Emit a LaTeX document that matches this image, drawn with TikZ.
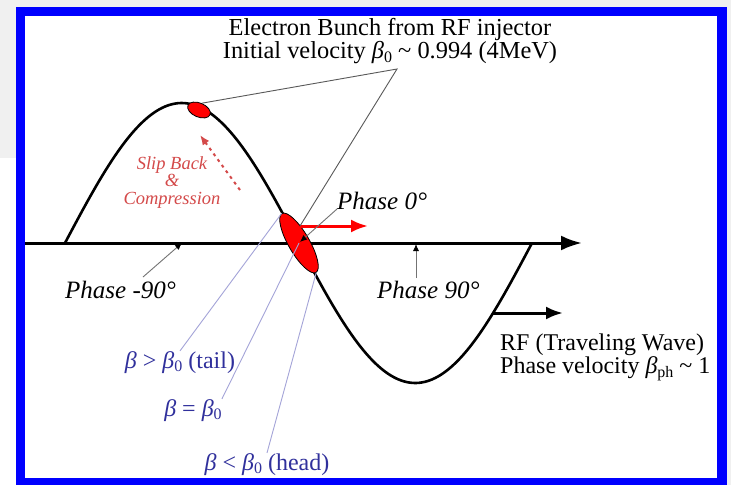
\documentclass[tikz,border=0pt]{standalone}
\usepackage{fontspec}
\setmainfont{Liberation Serif}
\usetikzlibrary{arrows.meta,shapes.geometric}
\definecolor{shot}{HTML}{F0F0F0}
\definecolor{frameblue}{HTML}{0000FF}
\definecolor{slipred}{HTML}{D44A4A}
\definecolor{betablue}{HTML}{30309C}
\definecolor{leader}{HTML}{A4A4D8}
\newcommand{\bb}{\textit{β}}
\newcommand{\sub}[1]{\raisebox{-0.3ex}{\fontsize{16}{16}\selectfont #1}}

\begin{document}
\begin{tikzpicture}[x=1pt,y=-1pt,>=Latex,
 every node/.style={inner sep=0pt},
 bunch/.style={ellipse,draw=black,line width=0.8pt,fill=red},
 phase/.style={font=\fontsize{25}{25}\selectfont\itshape},
 betalab/.style={font=\fontsize{24}{24}\selectfont,text=betablue},
 note/.style={font=\fontsize{24.4}{22}\selectfont},
 leaderline/.style={leader,line width=0.9pt},
 tagline/.style={black!65,line width=0.9pt},
 pointer/.style={black!55,line width=0.9pt,-{Latex[length=7pt,width=6pt,color=black]}},
 thickarrow/.style={line width=3pt,-{Latex[length=17pt,width=13pt]}}]

 % screenshot margins and blue frame
 \fill[shot] (0,0) rectangle (731,485);
 \fill[white] (0,158) rectangle (16,485);
 \fill[frameblue] (16,7) rectangle (727,485);
 \fill[white] (25,16) rectangle (717,478);

 % phase axis and RF wave
 \coordinate (axisL) at (25,243);
 \coordinate (axisR) at (582,243);
 \draw[line width=3pt,-{Latex[length=21pt,width=15pt]}] (axisL) -- (axisR);
 \draw[line width=2.6pt] plot[domain=65:532,samples=150]
   (\x,{243-140*sin((\x-65)/233.5*180)});

 % bunches
 \node[bunch,minimum width=24pt,minimum height=14pt,rotate=-23] (crest) at (199,110) {};
 \node[bunch,minimum width=68pt,minimum height=21pt,rotate=-60] (zero) at (299,243) {};

 \coordinate (front) at (300,226);
 \coordinate (frontR) at (368,226);
 \draw[thickarrow,red] (front) -- (frontR);
 \coordinate (wavept) at (493,313);
 \coordinate (waveR) at (563,313);
 \draw[thickarrow] (wavept) -- (waveR);

 \node[font=\fontsize{18.5}{17.6}\selectfont\itshape,text=slipred,align=center,anchor=north]
   (slip) at (172,156) {Slip Back\\\&\\Compression};
 \coordinate (slipS) at (240,190);
 \coordinate (slipE) at (200,135);
 \draw[slipred,line width=2pt,dash pattern=on 3pt off 4pt,-{Latex[length=10pt,width=8pt]}]
   (slipS) -- (slipE);

 % labels
 \node[note,align=center,anchor=north] (title) at (390,18)
   {Electron Bunch from RF injector\\Initial velocity \bb\sub{0} \textasciitilde\ 0.994 (4MeV)};
 \coordinate (apex) at (397,69);
 \draw[tagline] (crest.north) -- (apex) -- (front);

 \node[note,align=left,anchor=north west,font=\fontsize{24}{20}\selectfont] (rf) at (500,334)
   {RF (Traveling Wave)\\Phase velocity \bb\sub{ph} \textasciitilde\ 1};

 \node[phase,anchor=base west] (pm90) at (65,298) {Phase -90°};
 \node[phase,anchor=base west] (p0) at (337,209) {Phase 0°};
 \node[phase,anchor=base west] (p90) at (377,298) {Phase 90°};
 \coordinate (pm90tip) at (143,277);
 \coordinate (p90tip) at (416,278);
 \coordinate (tickm90) at (182,243);
 \coordinate (tick0) at (300,242);
 \coordinate (tick90) at (416,244);
 \draw[pointer] (pm90tip) -- (tickm90);
 \draw[pointer] (p0.base west) -- (tick0);
 \draw[pointer] (p90tip) -- (tick90);

 \node[betalab,anchor=base] (tail) at (180,368) {\bb\ > \bb\sub{0} (tail)};
 \node[betalab,anchor=base] (sync) at (193,416) {\bb\ = \bb\sub{0}};
 \node[betalab,anchor=base] (head) at (267,470) {\bb\ < \bb\sub{0} (head)};
 \draw[leaderline] (tail.north) -- (zero.west);
 \draw[leaderline] (sync.north east) -- (zero.center);
 \draw[leaderline] (head.north) -- (zero.east);
\end{tikzpicture}
\end{document}
